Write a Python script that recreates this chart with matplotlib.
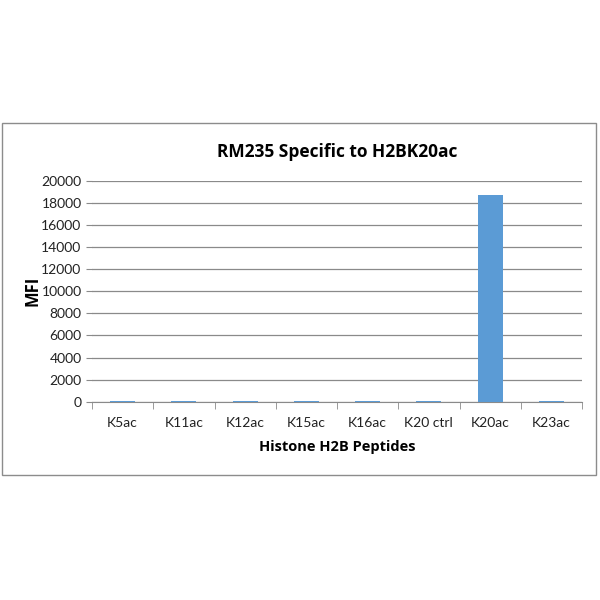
import matplotlib.pyplot as plt
import matplotlib.patches as patches

peptides = ['K5ac', 'K11ac', 'K12ac', 'K15ac', 'K16ac', 'K20 ctrl', 'K20ac', 'K23ac']
mfi = [60, 60, 60, 60, 60, 60, 18700, 60]

plt.rcParams['font.family'] = ['Lato', 'DejaVu Sans']
bold_font = ['Open Sans', 'DejaVu Sans']

fig = plt.figure(figsize=(6, 6), dpi=100)
fig.patch.set_facecolor('white')

# outer chart border (Excel-style frame)
fig.patches.append(patches.Rectangle((2 / 600, 1 - 475 / 600), 594 / 600, 352 / 600,
                                     transform=fig.transFigure, fill=False,
                                     edgecolor='#8c8c8c', linewidth=1.0))

ax = fig.add_axes([92 / 600, 1 - 401.7 / 600, 490 / 600, 220.7 / 600])

xs = range(len(peptides))
ax.bar(xs, mfi, width=0.41, color='#5B9BD5', zorder=3)

ax.set_ylim(0, 20000)
ax.set_xlim(-0.5, len(peptides) - 0.5)
ax.set_yticks(range(0, 20001, 2000))
ax.yaxis.grid(True, color='#8a8a8a', linewidth=0.9)
ax.set_axisbelow(True)

ax.set_xticks(list(xs))
ax.set_xticklabels(peptides, fontsize=10)
ax.set_xticks([i - 0.5 for i in range(len(peptides) + 1)], minor=True)
ax.tick_params(axis='x', which='major', length=0, pad=11, colors='#222222')
ax.tick_params(axis='x', which='minor', length=5, color='#8a8a8a', direction='out')
ax.tick_params(axis='y', length=4, color='#8a8a8a', labelsize=10, labelcolor='#222222')

for side in ['top', 'right', 'left']:
    ax.spines[side].set_visible(False)
ax.spines['bottom'].set_color('#8a8a8a')

ax.set_title('RM235 Specific to H2BK20ac', fontsize=12.5, fontweight='bold',
             family=bold_font, pad=17)
ax.set_xlabel('Histone H2B Peptides', fontsize=10.5, fontweight='bold',
              family=bold_font, labelpad=8)
ax.set_ylabel('MFI', fontsize=12, fontweight='bold', family=bold_font, labelpad=0)

fig.savefig('out.png', dpi=100)
